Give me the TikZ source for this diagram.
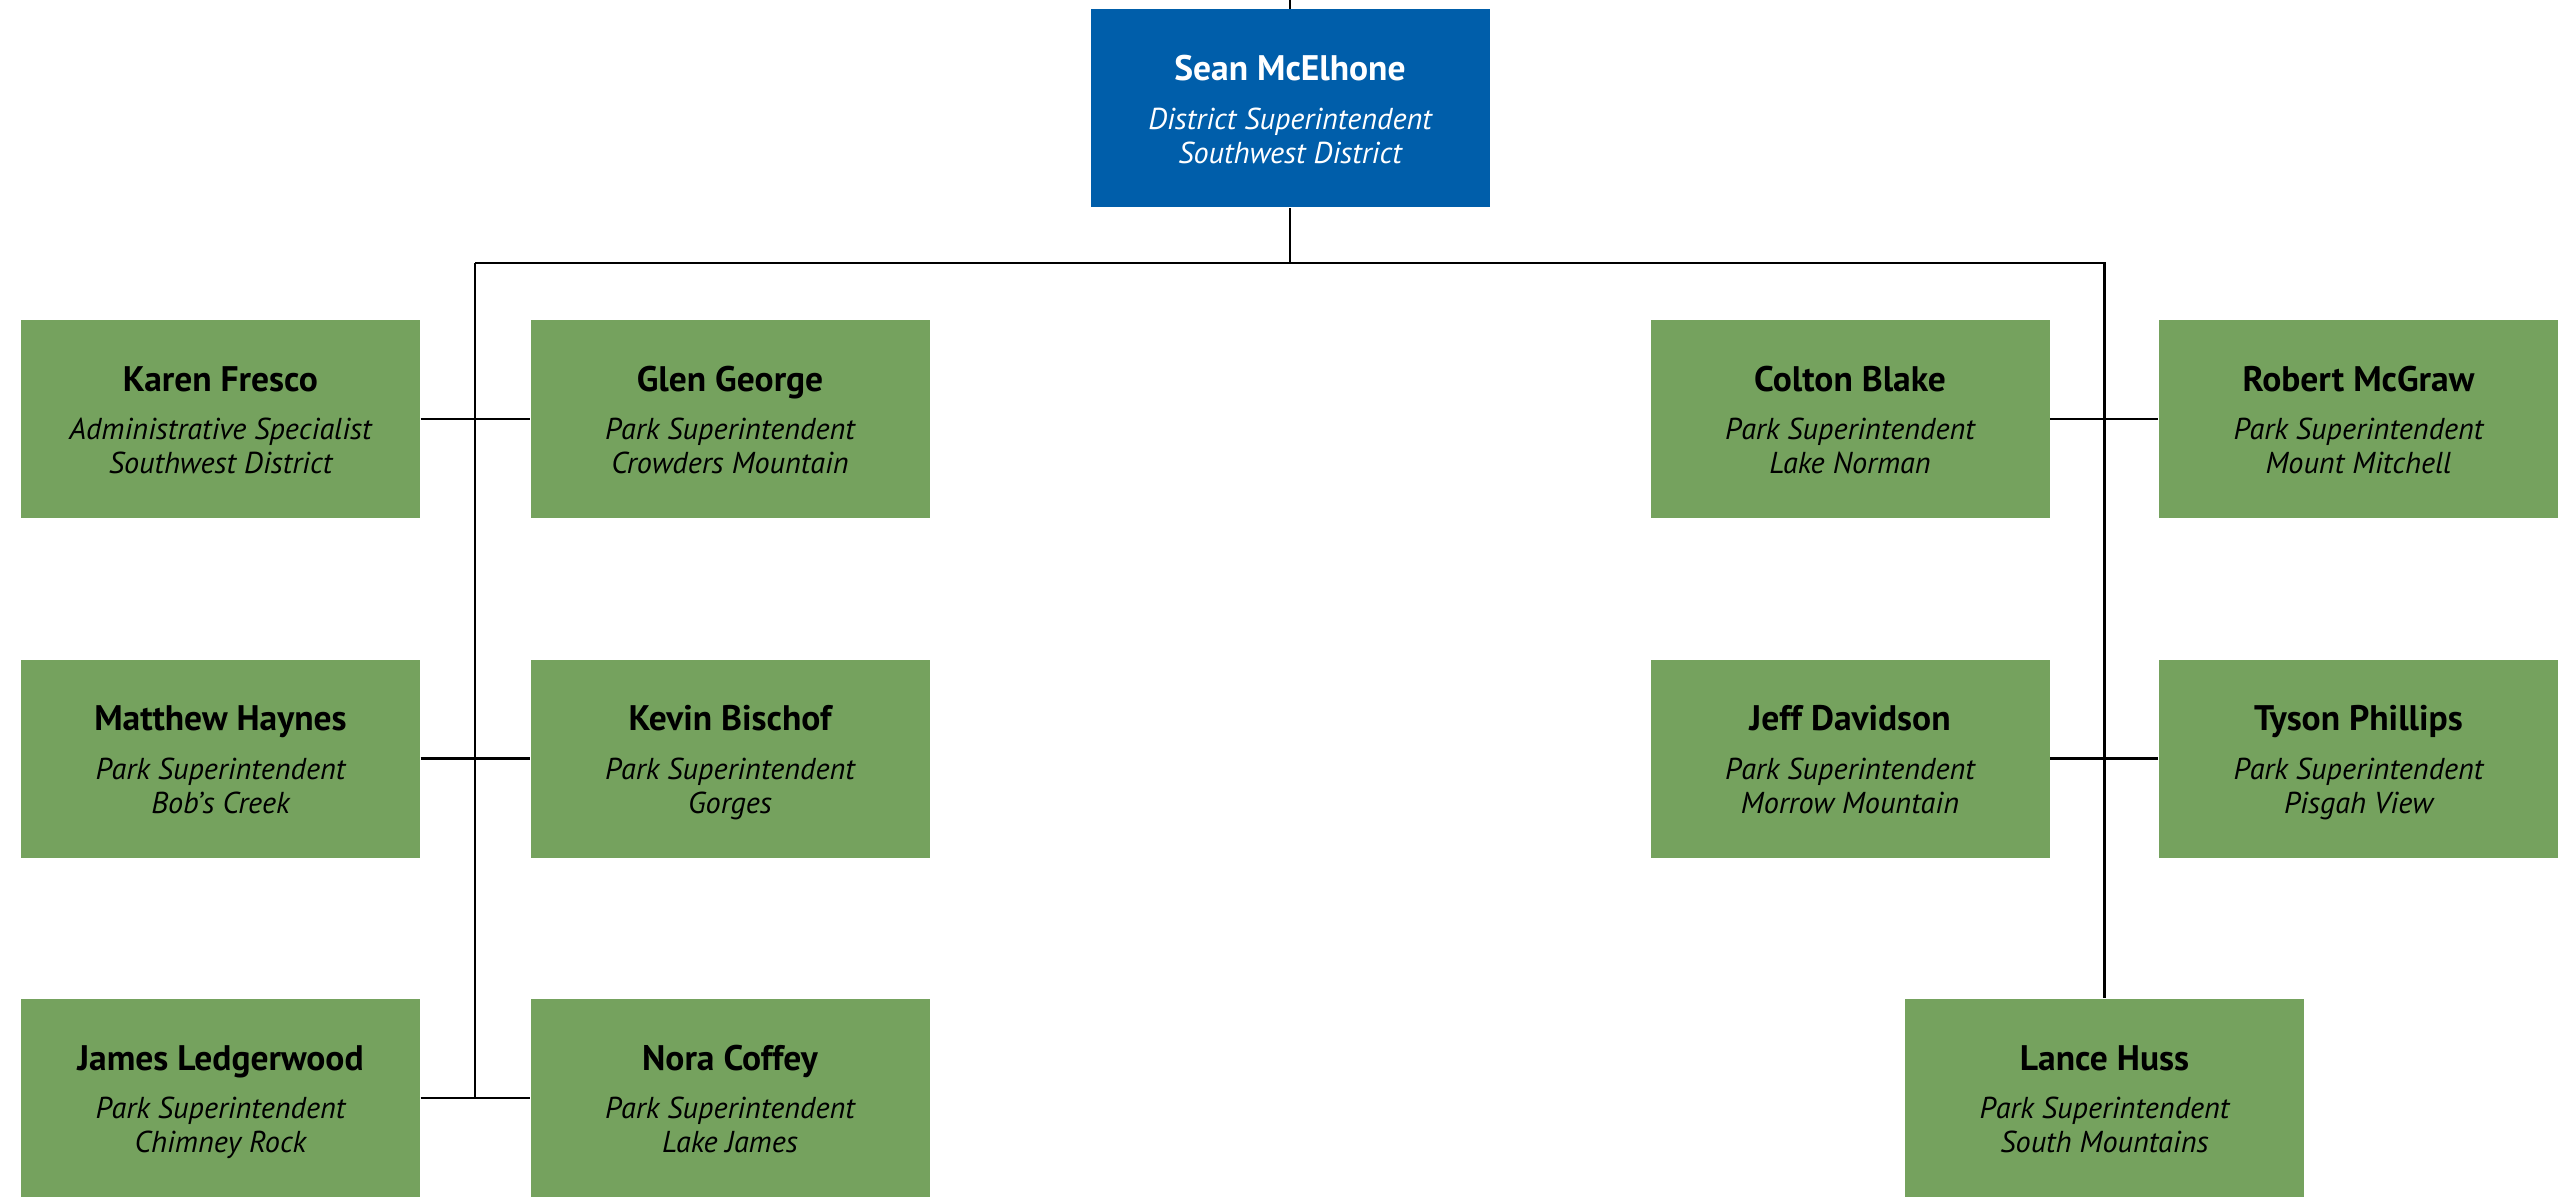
\documentclass[tikz,border=0pt]{standalone}
\usepackage{fontspec}
\setmainfont{PT Sans}
\usetikzlibrary{positioning}

\definecolor{swblue}{RGB}{0,94,170}
\definecolor{parkgreen}{RGB}{117,162,94}

\newcommand{\namefont}{\fontsize{10.1}{11}\selectfont\bfseries\upshape}
\newcommand{\staff}[3]{{\namefont\rule{0pt}{9.5pt}#1}\\[4.2pt]#2\\\vphantom{gy}#3}

\begin{document}
\begin{tikzpicture}[
	box/.style={fill=parkgreen,minimum width=3.99cm,minimum height=1.98cm,inner sep=0pt,
		align=center,font=\fontsize{8.6}{9.7}\selectfont\itshape},
	boss/.style={box,fill=swblue,text=white},
	line/.style={line width=0.8pt}]

\useasboundingbox (0,0) rectangle (25.6,11.97);

\node[boss] (sean) at (12.90,10.885) {\staff{Sean McElhone}{District Superintendent}{Southwest District}};

% left side
\node[box] (karen)   at (2.205,7.78)  {\staff{Karen Fresco}{Administrative Specialist}{Southwest District}};
\node[box] (glen)    at (7.30,7.78)   {\staff{Glen George}{Park Superintendent}{Crowders Mountain}};
\node[box] (matthew) at (2.205,4.385) {\staff{Matthew Haynes}{Park Superintendent}{Bob's Creek}};
\node[box] (kevin)   at (7.30,4.385)  {\staff{Kevin Bischof}{Park Superintendent}{Gorges}};
\node[box] (james)   at (2.205,0.99)  {\staff{James Ledgerwood}{Park Superintendent}{Chimney Rock}};
\node[box] (nora)    at (7.30,0.99)   {\staff{Nora Coffey}{Park Superintendent}{Lake James}};

% right side
\node[box] (colton) at (18.50,7.78)   {\staff{Colton Blake}{Park Superintendent}{Lake Norman}};
\node[box] (robert) at (23.585,7.78)  {\staff{Robert McGraw}{Park Superintendent}{Mount Mitchell}};
\node[box] (jeff)   at (18.50,4.385)  {\staff{Jeff Davidson}{Park Superintendent}{Morrow Mountain}};
\node[box] (tyson)  at (23.585,4.385) {\staff{Tyson Phillips}{Park Superintendent}{Pisgah View}};
\node[box] (lance)  at (21.045,0.99)  {\staff{Lance Huss}{Park Superintendent}{South Mountains}};

\coordinate (up) at (12.90,11.97);
\coordinate (busL) at (4.75,9.34);
\coordinate (busR) at (lance.north |- busL);

\draw[line] (sean.north) -- (up);
\draw[line] (sean.south) -- (sean.south |- busL);
\draw[line] (busL) -- (busR) -- (lance.north);
\draw[line] (busL) -- (busL |- nora.west);

\draw[line] (karen.east) -- (glen.west);
\draw[line] (matthew.east) -- (kevin.west);
\draw[line] (james.east) -- (nora.west);
\draw[line] (colton.east) -- (robert.west);
\draw[line] (jeff.east) -- (tyson.west);

\end{tikzpicture}
\end{document}
